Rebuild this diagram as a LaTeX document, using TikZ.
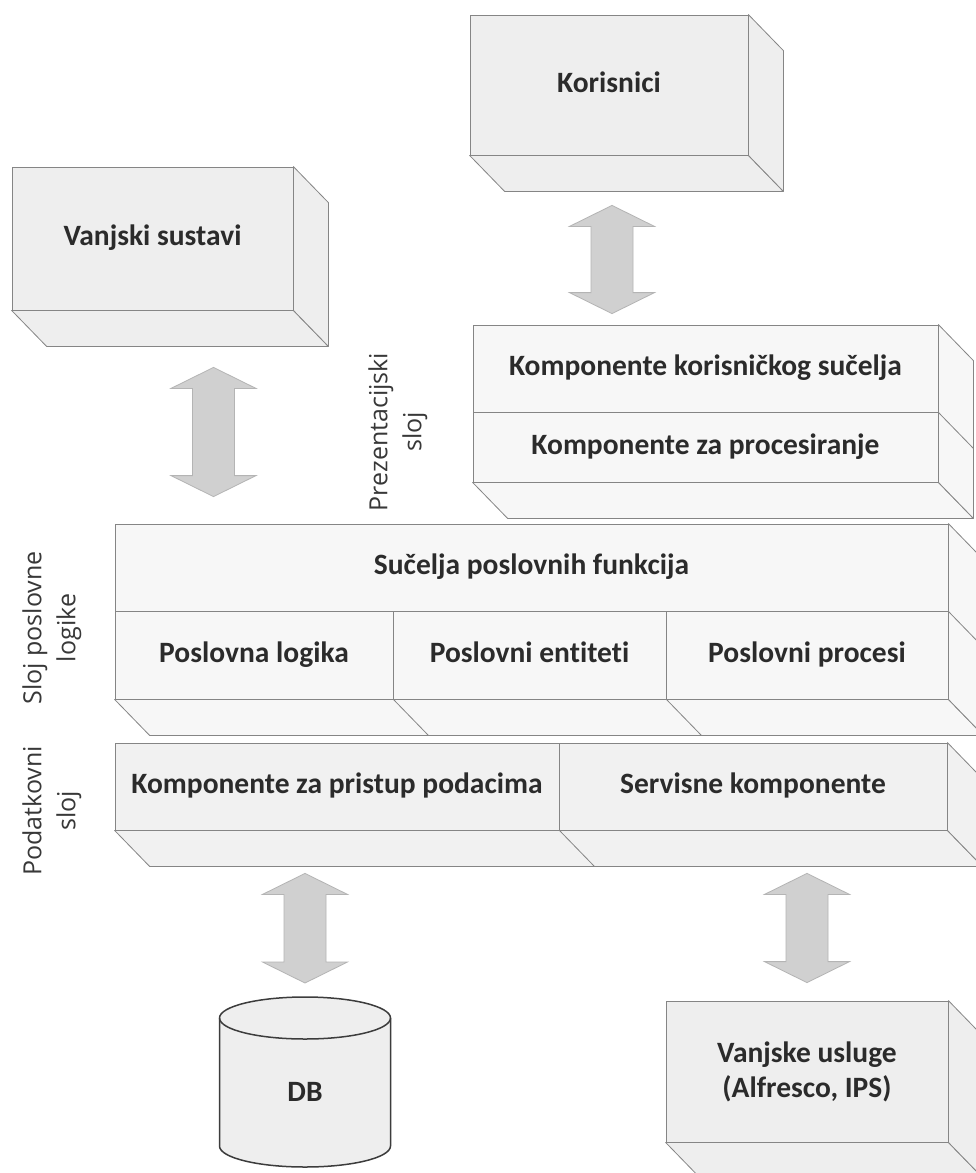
\documentclass[tikz,border=0pt]{standalone}
\usepackage{fontspec}
\setmainfont{Carlito}[Ligatures=CommonOff]
\newfontfamily\labelfont{Open Sans}
\usetikzlibrary{calc}

\definecolor{edge}{HTML}{858585}
\definecolor{boxfill}{HTML}{EEEEEE}
\definecolor{layerfill}{HTML}{F7F7F7}
\definecolor{datafill}{HTML}{F1F1F1}
\definecolor{arrowfill}{HTML}{D0D0D0}
\definecolor{arrowedge}{HTML}{B4B4B4}
\definecolor{ink}{HTML}{2B2B2B}
\definecolor{labelink}{HTML}{383838}
\definecolor{dbedge}{HTML}{3C3C3C}

\pgfdeclarelayer{back}
\pgfsetlayers{back,main}

\tikzset{
  front/.style={draw=edge, line width=0.8pt, fill=#1, rectangle, inner sep=0pt,
    text=ink, font=\bfseries\fontsize{29.5}{35}\selectfont, align=center},
  oneline/.style={text height=20pt, text depth=6pt},
  face/.style={draw=edge, line width=0.8pt, fill=#1, line join=round},
  faceline/.style={draw=edge, line width=0.8pt},
  layerlabel/.style={rotate=90, align=center, text=labelink, inner sep=0pt,
    font=\labelfont\fontsize{25}{34}\selectfont},
  blockarrow/.style={fill=arrowfill, draw=arrowedge, line width=0.8pt},
  dbshape/.style={fill=boxfill, draw=dbedge, line width=1.5pt},
}

% bottom and right faces of a slab whose front spans #1 (top left) to #2 (bottom right)
\newcommand\slabfaces[3]{%
  \path (#1) coordinate (sl-a) (#2) coordinate (sl-b);
  \path (sl-a |- sl-b) coordinate (sl-c) (sl-b |- sl-a) coordinate (sl-d);
  \filldraw[face=#3] (sl-c) -- (sl-b) -- ++(35,36) -- ($(sl-c)+(35,36)$) -- cycle;
  \filldraw[face=#3] (sl-d) -- ++(35,36) -- ($(sl-b)+(35,36)$) -- (sl-b) -- cycle;
}

% two-headed block arrow from an upper tip #1 to a lower tip #2
\newcommand\fatarrow[2]{%
  \filldraw[blockarrow] let \p1=(#1), \p2=(#2) in
    (\x1,\y1) -- (\x1+42.5pt,\y1-21pt) -- (\x1+21pt,\y1-21pt) -- (\x1+21pt,\y2+21pt)
    -- (\x1+42.5pt,\y2+21pt) -- (\x1,\y2) -- (\x1-42.5pt,\y2+21pt) -- (\x1-21pt,\y2+21pt)
    -- (\x1-21pt,\y1-21pt) -- (\x1-42.5pt,\y1-21pt) -- cycle;
}

\begin{document}
\begin{tikzpicture}[x=1pt, y=-1pt]
\useasboundingbox (0,0) rectangle (975,1173);
\clip (0,0) rectangle (975,1173);
\begin{pgfonlayer}{back}
  \fill[white] (0,0) rectangle (975,1173);
\end{pgfonlayer}

% outside actors
\node[front=boxfill, oneline, minimum width=278pt, minimum height=140pt] (kor) at (609,85) {Korisnici};
\node[front=boxfill, oneline, minimum width=281pt, minimum height=143pt] (vs) at (152.5,238.5) {Vanjski sustavi};

% presentation layer
\node[front=layerfill, oneline, minimum width=465pt, minimum height=87pt] (ui) at (705.5,368.5) {Komponente korisničkog sučelja};
\node[front=layerfill, oneline, minimum width=465pt, minimum height=70pt] (proc) at (705.5,447) {Komponente za procesiranje};

% business logic layer
\node[front=layerfill, oneline, minimum width=833pt, minimum height=87pt] (suc) at (531.5,567.5) {Sučelja poslovnih funkcija};
\node[front=layerfill, oneline, minimum width=278pt, minimum height=88pt] (pl) at (254,655) {Poslovna logika};
\node[front=layerfill, oneline, minimum width=273pt, minimum height=88pt] (pe) at (529.5,655) {Poslovni entiteti};
\node[front=layerfill, oneline, minimum width=282pt, minimum height=88pt] (pp) at (807,655) {Poslovni procesi};

% data layer
\node[front=datafill, oneline, minimum width=444pt, minimum height=87pt] (dac) at (337,786.5) {Komponente za pristup podacima};
\node[front=datafill, oneline, minimum width=388pt, minimum height=87pt] (sk) at (753,786.5) {Servisne komponente};

% external services
\node[front=boxfill, minimum width=282pt, minimum height=141pt] (vu) at (807,1071.5) {Vanjske usluge\\(Alfresco, IPS)};

% layer captions
\node[layerlabel] (lp) at (398,432) {Prezentacijski\\sloj};
\node[layerlabel] (lb) at (52,628) {Sloj poslovne\\logike};
\node[layerlabel] (ld) at (52,811) {Podatkovni\\sloj};

% depth faces
\begin{pgfonlayer}{back}
  \slabfaces{kor.north west}{kor.south east}{boxfill}
  \slabfaces{vs.north west}{vs.south east}{boxfill}
  \slabfaces{ui.north west}{proc.south east}{layerfill}
  \draw[faceline] (ui.south east) -- ++(35,36);
  \slabfaces{suc.north west}{pp.south east}{layerfill}
  \draw[faceline] (suc.south east) -- ++(35,36);
  \draw[faceline] (pl.south east) -- ++(35,36);
  \draw[faceline] (pe.south east) -- ++(35,36);
  \slabfaces{dac.north west}{sk.south east}{datafill}
  \draw[faceline] (dac.south east) -- ++(35,36);
  \slabfaces{vu.north west}{vu.south east}{boxfill}
\end{pgfonlayer}

% database cylinder
\coordinate (dbtop) at (305,997);
\filldraw[dbshape] (219.5,1018) -- (219.5,1146)
  arc[start angle=180, end angle=360, x radius=85.5pt, y radius=21pt]
  -- (390.5,1018)
  arc[start angle=0, end angle=180, x radius=85.5pt, y radius=21pt] -- cycle;
\draw[dbshape, fill=none] (219.5,1018) arc[start angle=180, end angle=360, x radius=85.5pt, y radius=21pt];
\node[text=ink, font=\bfseries\fontsize{29.5}{35}\selectfont] (db) at (305,1092) {DB};

% connectors
\fatarrow{$(kor.south)+(3,50)$}{$(kor.south |- ui.north)+(3,-11)$}
\fatarrow{$(vs.south)+(61,57)$}{$(vs.south |- suc.north)+(61,-27)$}
\fatarrow{$(dac.south -| dbtop)+(0,43)$}{$(dbtop)+(0,-14)$}
\fatarrow{$(sk.south -| vu.north)+(0,43)$}{$(vu.north)+(0,-18)$}
\end{tikzpicture}
\end{document}
